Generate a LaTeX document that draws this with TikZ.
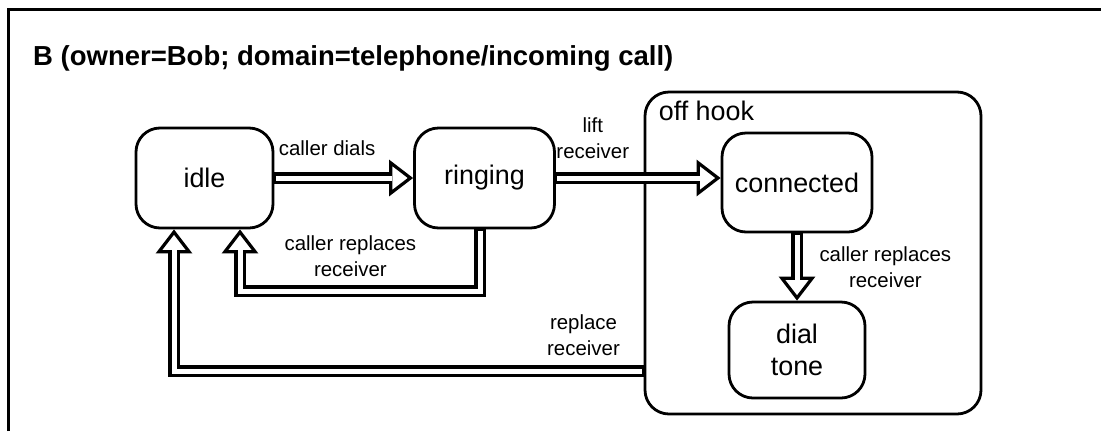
\documentclass[tikz,border=0pt]{standalone}
\usepackage{fontspec}
\setmainfont{Liberation Sans}
\usetikzlibrary{arrows.meta}
\tikzstyle{state} = [rectangle, rounded corners=24bp, line width=2.8bp, minimum width=137bp, minimum height=100bp, align=center, draw=black, font=\fontsize{27}{32}\selectfont]
\tikzstyle{super} = [rectangle, rounded corners=24bp, line width=2.8bp, minimum width=336bp, minimum height=322bp, draw=black]
\tikzstyle{lbl} = [font=\fontsize{20.5}{26}\selectfont, align=center, inner sep=0bp]
\tikzstyle{arrow} = [draw=white, line width=5bp, shorten <=1.5bp, shorten >=21bp, preaction={draw=black, line width=12bp, shorten <=0bp, shorten >=0bp, -{Triangle[open, length=24bp, width=36bp, line width=3.2bp]}}]

\begin{document}
\begin{tikzpicture}[x=1bp, y=1bp, node distance=280bp]
\useasboundingbox [fill=white] (0,0) rectangle (1101,-431);
% frame
\draw [line width=3bp] (8,-431) -- (8,-9) -- (1101,-9);
\node (title) [anchor=base west, inner sep=0bp, font=\bfseries\fontsize{27.6}{33}\selectfont] at (33,-65) {B (owner=Bob; domain=telephone/incoming call)};

% nodes
\node (idle) [state] at (204.5,-178) {idle};
\node (ringing) [state, right of=idle, minimum width=140bp] {ringing};
\node (offhook) [super, right of=ringing, xshift=48.5bp, yshift=-75bp] {};
\node (offtext) [anchor=base west, inner sep=0bp, font=\fontsize{27}{32}\selectfont] at ([xshift=15bp, yshift=-30bp]offhook.north west) {off hook};
\node (connected) [state, right of=ringing, xshift=32.5bp, yshift=-4.5bp, minimum width=150bp, minimum height=99bp] {connected};
\node (dialtone) [state, below of=connected, yshift=112.5bp, minimum width=136bp, minimum height=96bp] {dial\\tone};

%edges
\draw [arrow] (idle) -- node [lbl, above=20bp, pos=.38] {caller dials} (ringing);
\draw [arrow] (ringing.east) -- node [lbl, above=17bp, pos=.224] {lift\\receiver} (ringing.east -| connected.west);
\draw [arrow] (connected) -- node [lbl, right=20bp] {caller replaces\\receiver} (dialtone);
\draw [arrow] ([xshift=-4.5bp]ringing.south) -- ++(0,-62) -| node [lbl, above=12bp, pos=.27] {caller replaces\\receiver} ([xshift=35.5bp]idle.south);
\draw [arrow] ([yshift=-118bp]offhook.west) -| node [lbl, above=13bp, pos=.064] {replace\\receiver} ([xshift=-30.5bp]idle.south);

\end{tikzpicture}
\end{document}
